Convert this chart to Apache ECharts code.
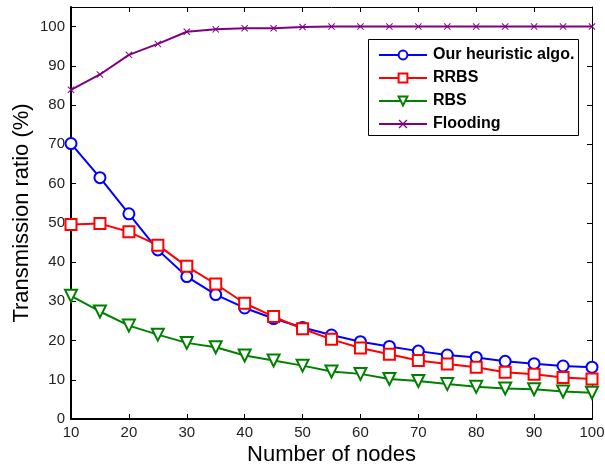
<!DOCTYPE html>
<html>
<head>
<meta charset="utf-8">
<script src="https://cdn.jsdelivr.net/npm/echarts@6/dist/echarts.min.js"></script>
<style>
  html, body { margin: 0; padding: 0; background: #fff; }
  #chart { width: 605px; height: 468px; }
</style>
</head>
<body>
<div id="chart"></div>
<script>
// number of nodes (x axis)
var nodes = [10, 15, 20, 25, 30, 35, 40, 45, 50, 55, 60, 65, 70, 75, 80, 85, 90, 95, 100];
// transmission ratio (%) per scheme
var heuristic = [70.2, 61.5, 52.3, 43.1, 36.3, 31.7, 28.3, 25.6, 23.3, 21.4, 19.7, 18.5, 17.3, 16.3, 15.7, 14.7, 14.1, 13.5, 13.2];
var rrbs = [49.6, 49.8, 47.7, 44.3, 38.9, 34.4, 29.5, 26.1, 23.0, 20.3, 18.1, 16.5, 14.9, 14.0, 13.2, 11.9, 11.4, 10.6, 10.2];
var rbs = [31.4, 27.4, 23.8, 21.5, 19.4, 18.3, 16.2, 14.9, 13.6, 12.1, 11.5, 10.2, 9.7, 8.9, 8.2, 7.8, 7.6, 7.0, 6.7];
var flooding = [83.9, 87.8, 92.8, 95.6, 98.7, 99.3, 99.6, 99.6, 99.9, 100, 100, 100, 100, 100, 100, 100, 100, 100, 100];
var seriesNames = ['Our heuristic algo.', 'RRBS', 'RBS', 'Flooding'];

function pairs(vals) {
  return nodes.map(function (n, i) { return [n, vals[i]]; });
}

var FONT = 'Liberation Sans, Arial, sans-serif';
var xMark = 'path://M0,1L1,0L5,4L9,0L10,1L6,5L10,9L9,10L5,6L1,10L0,9L4,5Z';

var chart = echarts.init(document.getElementById('chart'));

var tickCommon = { show: true, inside: true, length: 5, lineStyle: { color: '#000', width: 1 } };

chart.setOption({
  animation: false,
  backgroundColor: '#fff',
  grid: { left: 71, right: 13, top: 7, bottom: 49, containLabel: false, outerBoundsMode: 'none' },
  xAxis: [{
    type: 'value',
    min: 10, max: 100, interval: 10,
    name: 'Number of nodes',
    nameLocation: 'middle',
    nameGap: 25,
    nameMoveOverlap: false,
    nameTextStyle: { fontFamily: FONT, fontSize: 22, color: '#000' },
    axisLine: { onZero: false, lineStyle: { color: '#000', width: 2 } },
    axisTick: tickCommon,
    axisLabel: { fontFamily: FONT, fontSize: 15, color: '#222', margin: 6 },
    splitLine: { show: false }
  }, {
    type: 'value',
    position: 'top',
    min: 10, max: 100, interval: 10,
    axisLine: { onZero: false, lineStyle: { color: '#000', width: 1 } },
    axisTick: tickCommon,
    axisLabel: { show: false },
    splitLine: { show: false }
  }],
  yAxis: [{
    type: 'value',
    min: 0, max: 105, interval: 10,
    name: 'Transmission ratio (%)',
    nameLocation: 'middle',
    nameGap: 38,
    nameMoveOverlap: false,
    nameTextStyle: { fontFamily: FONT, fontSize: 22, color: '#000' },
    axisLine: { onZero: false, lineStyle: { color: '#000', width: 2 } },
    axisTick: tickCommon,
    axisLabel: { fontFamily: FONT, fontSize: 15, color: '#222', margin: 6, showMaxLabel: false },
    splitLine: { show: false }
  }, {
    type: 'value',
    position: 'right',
    min: 0, max: 105, interval: 10,
    axisLine: { onZero: false, lineStyle: { color: '#000', width: 1 } },
    axisTick: tickCommon,
    axisLabel: { show: false },
    splitLine: { show: false }
  }],
  graphic: [{
    type: 'rect',
    left: 368, top: 39,
    shape: { width: 210, height: 96 },
    style: { fill: '#fff', stroke: '#000', lineWidth: 1 },
    z: 3
  }],
  legend: {
    orient: 'vertical',
    left: 378, top: 47,
    itemWidth: 48, itemHeight: 11,
    itemGap: 7,
    padding: 0,
    z: 5,
    textStyle: { fontFamily: FONT, fontSize: 16, fontWeight: 'bold', color: '#000', padding: [0, 0, 0, 1] },
    data: seriesNames
  },
  series: [{
    name: seriesNames[0],
    type: 'line',
    data: pairs(heuristic),
    symbol: 'emptyCircle',
    symbolSize: 11,
    lineStyle: { color: '#0000ff', width: 2 },
    itemStyle: { color: '#0000ff', borderWidth: 2 }
  }, {
    name: seriesNames[1],
    type: 'line',
    data: pairs(rrbs),
    symbol: 'emptyRect',
    symbolSize: 11,
    lineStyle: { color: '#ff0000', width: 2 },
    itemStyle: { color: '#ff0000', borderWidth: 2 }
  }, {
    name: seriesNames[2],
    type: 'line',
    data: pairs(rbs),
    symbol: 'emptyTriangle',
    symbolRotate: 180,
    symbolSize: 12,
    lineStyle: { color: '#008000', width: 2 },
    itemStyle: { color: '#008000', borderWidth: 2 }
  }, {
    name: seriesNames[3],
    type: 'line',
    data: pairs(flooding),
    symbol: xMark,
    symbolSize: 7,
    lineStyle: { color: '#800080', width: 2 },
    itemStyle: { color: '#800080' }
  }]
});
</script>
</body>
</html>
